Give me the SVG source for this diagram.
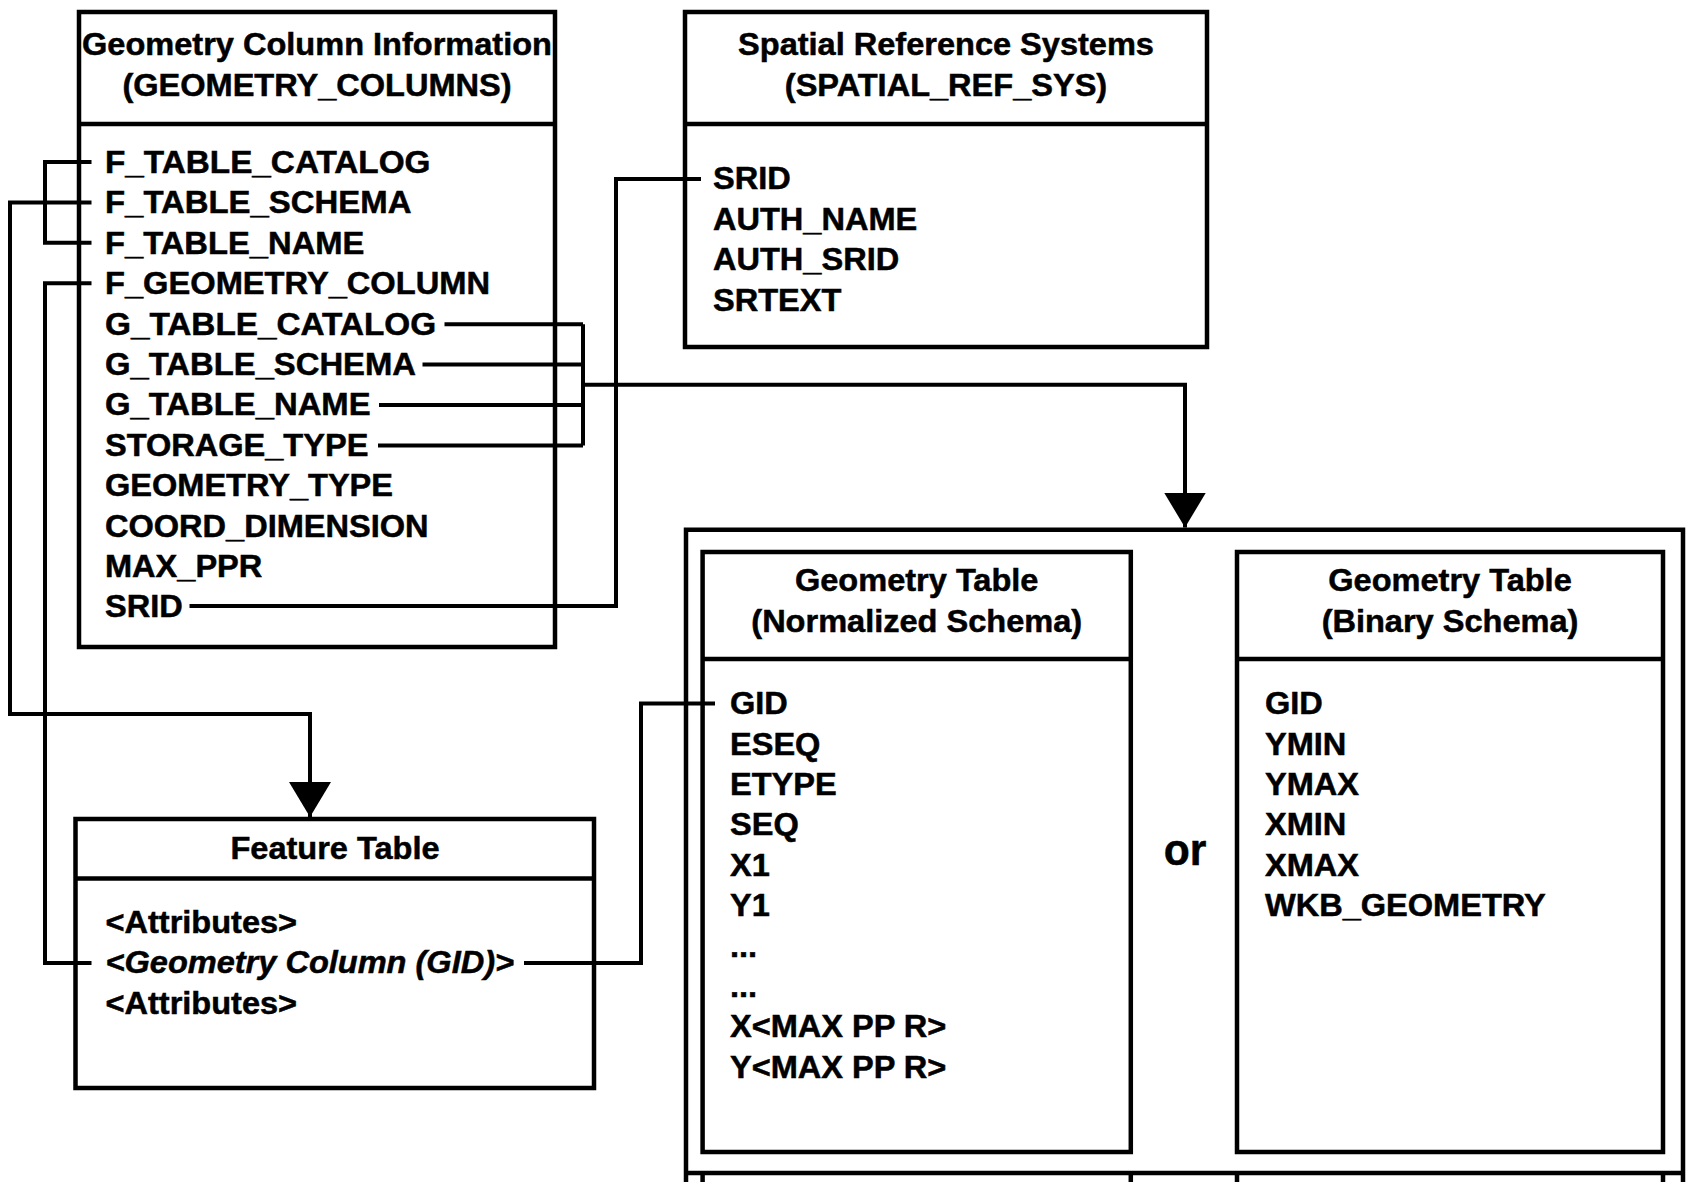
<svg xmlns="http://www.w3.org/2000/svg" width="1688" height="1182" viewBox="0 0 1688 1182">
  <style>
    .box { fill: #ffffff; stroke: #000000; stroke-width: 4.5; }
    .rule { fill: none; stroke: #000000; stroke-width: 4.5; }
    .wire { fill: none; stroke: #000000; stroke-width: 4; }
    .t { font-family: "Liberation Sans", Arial, Helvetica, sans-serif; font-weight: bold; font-size: 31px; fill: #000000; stroke: #000000; stroke-width: 0.5; }
    .c { text-anchor: middle; }
    .it { font-style: italic; }
    .or { font-size: 44px; }
  </style>
  <defs>
    <marker id="arrow" markerUnits="userSpaceOnUse" viewBox="0 0 35 42" refX="35" refY="21" markerWidth="35" markerHeight="42" orient="auto">
      <path d="M0,0 L35,21 L0,42 Z" fill="#000000"/>
    </marker>
  </defs>
  <rect x="0" y="0" width="1688" height="1182" fill="#ffffff"/>

  <!-- GEOMETRY_COLUMNS table -->
  <g id="geometry-columns">
    <rect class="box" x="79" y="12" width="476" height="635"/>
    <line class="rule" x1="79" y1="124" x2="555" y2="124"/>
    <text class="t c" transform="translate(317 0) scale(1.05 1)"><tspan x="0" y="55.5">Geometry Column Information</tspan><tspan x="0" y="96.5">(GEOMETRY_COLUMNS)</tspan></text>
    <g transform="translate(105 0) scale(1.05 1)">
      <text class="t" x="0" y="173" textLength="310" lengthAdjust="spacingAndGlyphs">F_TABLE_CATALOG</text>
      <text class="t" x="0" y="213.4" textLength="291.8" lengthAdjust="spacingAndGlyphs">F_TABLE_SCHEMA</text>
      <text class="t" x="0" y="253.8" textLength="247" lengthAdjust="spacingAndGlyphs">F_TABLE_NAME</text>
      <text class="t" x="0" y="294.2" textLength="366.7" lengthAdjust="spacingAndGlyphs">F_GEOMETRY_COLUMN</text>
      <text class="t" x="0" y="334.6" textLength="315.4" lengthAdjust="spacingAndGlyphs">G_TABLE_CATALOG</text>
      <text class="t" x="0" y="375" textLength="296.2" lengthAdjust="spacingAndGlyphs">G_TABLE_SCHEMA</text>
      <text class="t" x="0" y="415.4" textLength="252.9" lengthAdjust="spacingAndGlyphs">G_TABLE_NAME</text>
      <text class="t" x="0" y="455.8">STORAGE_TYPE</text>
      <text class="t" x="0" y="496.2">GEOMETRY_TYPE</text>
      <text class="t" x="0" y="536.6">COORD_DIMENSION</text>
      <text class="t" x="0" y="577">MAX_PPR</text>
      <text class="t" x="0" y="617.4">SRID</text>
    </g>
  </g>

  <!-- SPATIAL_REF_SYS table -->
  <g id="spatial-ref-sys">
    <rect class="box" x="685" y="12" width="522" height="335"/>
    <line class="rule" x1="685" y1="124" x2="1207" y2="124"/>
    <text class="t c" transform="translate(946 0) scale(1.05 1)"><tspan x="0" y="55.5">Spatial Reference Systems</tspan><tspan x="0" y="96.5">(SPATIAL_REF_SYS)</tspan></text>
    <text class="t" transform="translate(713 0) scale(1.05 1)">
      <tspan x="0" y="189.5">SRID</tspan>
      <tspan x="0" y="229.9">AUTH_NAME</tspan>
      <tspan x="0" y="270.3">AUTH_SRID</tspan>
      <tspan x="0" y="310.7">SRTEXT</tspan>
    </text>
  </g>

  <!-- Feature table -->
  <g id="feature-table">
    <rect class="box" x="75.5" y="819" width="518.5" height="269"/>
    <line class="rule" x1="75.5" y1="878.5" x2="594" y2="878.5"/>
    <text class="t c" transform="translate(335 0) scale(1.05 1)"><tspan x="0" y="859">Feature Table</tspan></text>
    <text class="t" transform="translate(105.5 0) scale(1.05 1)">
      <tspan x="0" y="933">&lt;Attributes&gt;</tspan>
      <tspan x="0" y="973.4" class="it">&lt;Geometry Column (GID)&gt;</tspan>
      <tspan x="0" y="1013.8">&lt;Attributes&gt;</tspan>
    </text>
  </g>

  <!-- Geometry table container: normalized or binary schema -->
  <g id="geometry-table">
    <path class="rule" d="M686,1186 V529.7 H1683 V1186"/>
    <line class="rule" x1="686" y1="1173" x2="1683" y2="1173"/>
    <path class="rule" d="M702.6,1173 V1186 M1130.8,1173 V1186 M1237,1173 V1186 M1663,1173 V1186"/>
    <text class="t or c" transform="translate(1185 0) scale(0.97 1)"><tspan x="0" y="865">or</tspan></text>
  </g>

  <g id="geometry-table-normalized">
    <rect class="box" x="702.6" y="552" width="428.2" height="600"/>
    <line class="rule" x1="702.6" y1="659" x2="1130.8" y2="659"/>
    <text class="t c" transform="translate(916.7 0) scale(1.05 1)"><tspan x="0" y="591.5">Geometry Table</tspan><tspan x="0" y="631.9">(Normalized Schema)</tspan></text>
    <text class="t" transform="translate(730 0) scale(1.05 1)">
      <tspan x="0" y="714.3">GID</tspan>
      <tspan x="0" y="754.7">ESEQ</tspan>
      <tspan x="0" y="795.1">ETYPE</tspan>
      <tspan x="0" y="835.5">SEQ</tspan>
      <tspan x="0" y="875.9">X1</tspan>
      <tspan x="0" y="916.3">Y1</tspan>
      <tspan x="0" y="956.7">...</tspan>
      <tspan x="0" y="997.1">...</tspan>
      <tspan x="0" y="1037.5">X&lt;MAX PP R&gt;</tspan>
      <tspan x="0" y="1077.9">Y&lt;MAX PP R&gt;</tspan>
    </text>
  </g>

  <g id="geometry-table-binary">
    <rect class="box" x="1237" y="552" width="426" height="600"/>
    <line class="rule" x1="1237" y1="659" x2="1663" y2="659"/>
    <text class="t c" transform="translate(1450 0) scale(1.05 1)"><tspan x="0" y="591.5">Geometry Table</tspan><tspan x="0" y="631.9">(Binary Schema)</tspan></text>
    <text class="t" transform="translate(1265 0) scale(1.05 1)">
      <tspan x="0" y="714.3">GID</tspan>
      <tspan x="0" y="754.7">YMIN</tspan>
      <tspan x="0" y="795.1">YMAX</tspan>
      <tspan x="0" y="835.5">XMIN</tspan>
      <tspan x="0" y="875.9">XMAX</tspan>
      <tspan x="0" y="916.3">WKB_GEOMETRY</tspan>
    </text>
  </g>

  <!-- Connectors -->
  <g id="connectors">
    <!-- F_TABLE_CATALOG / F_TABLE_NAME bracket -->
    <path class="wire" d="M91.5,162 H45 V242.8 H91.5"/>
    <!-- F_TABLE_SCHEMA to feature table -->
    <path class="wire" d="M91.5,202.4 H10 V714 H310 V817" marker-end="url(#arrow)"/>
    <!-- F_GEOMETRY_COLUMN to geometry column attribute -->
    <path class="wire" d="M91.5,283.2 H45 V963 H91.5"/>
    <!-- G_* columns and storage type to geometry table -->
    <path class="wire" d="M444.5,324.2 H583 M422.5,364.6 H583 M379,405 H583 M378,445.4 H583 M583,324.2 V445.4"/>
    <path class="wire" d="M583,384.8 H1185 V527.5" marker-end="url(#arrow)"/>
    <!-- SRID to SPATIAL_REF_SYS.SRID -->
    <path class="wire" d="M189.5,606 H616 V179 H701"/>
    <!-- GID to geometry table GID -->
    <path class="wire" d="M524,963 H641 V703.5 H715"/>
  </g>
</svg>
